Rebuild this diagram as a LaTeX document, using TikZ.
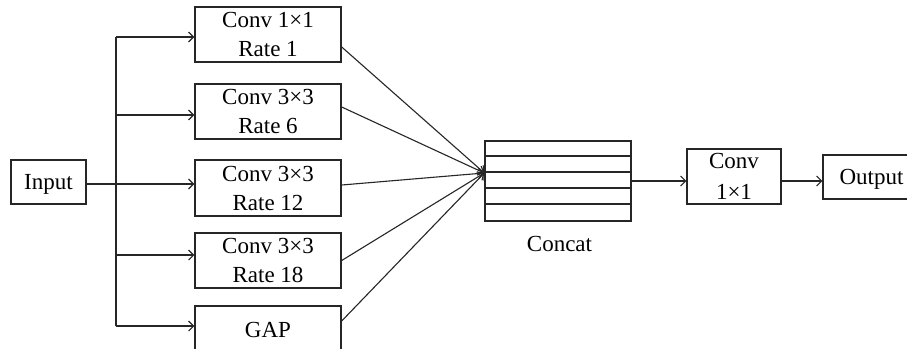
\documentclass[tikz,border=0pt]{standalone}
\usepackage{fontspec}
\setmainfont{Liberation Serif}
\usetikzlibrary{arrows.meta}
\begin{document}
\begin{tikzpicture}[x=1pt,y=-1pt,
  box/.style={draw=black!85, line width=1.4pt, fill=white, inner sep=0pt, align=center,
    font=\fontsize{23}{29}\selectfont},
  one/.style={text height=15pt, text depth=0pt},
  arr/.style={draw=black!85, line width=1.1pt, -{Straight Barb[length=5pt,width=10pt,line width=1.1pt]}},
  ln/.style={draw=black!85, line width=1.1pt}]
\clip (0,0) rectangle (907,348);
\fill[white] (0,0) rectangle (907,348);
% input
\node[box, one, minimum width=75pt, minimum height=44pt] (input) at (48.5,182) {Input};
% branches
\node[box, minimum width=146pt, minimum height=55pt] (b1) at (268,34.5) {Conv 1×1\\Rate 1};
\node[box, minimum width=146pt, minimum height=55pt] (b2) at (268,111.5) {Conv 3×3\\Rate 6};
\node[box, minimum width=146pt, minimum height=56pt] (b3) at (268,188) {Conv 3×3\\Rate 12};
\node[box, minimum width=146pt, minimum height=55pt] (b4) at (268,260.5) {Conv 3×3\\Rate 18};
\node[box, one, minimum width=146pt, minimum height=47pt] (b5) at (268,329.5) {GAP};
% concat
\node[draw=black!85, line width=1.4pt, minimum width=146pt, minimum height=80pt, inner sep=0pt] (concat) at (558,181) {};
\foreach \yy in {156,172,188,204}
  \draw[ln] (concat.west |- 0,\yy) -- (concat.east |- 0,\yy);
\node[box, one, draw=none, fill=none] (clab) at (559.5,243.5) {Concat};
% conv and output
\node[box, minimum width=94pt, minimum height=55pt, font=\fontsize{23}{31}\selectfont] (conv) at (734,176.5) {Conv\\1×1};
\node[box, one, minimum width=97pt, minimum height=44pt] (out) at (871.5,177) {Output};
% trunk
\coordinate (t1) at (116,37);
\coordinate (t2) at (116,115);
\coordinate (t3) at (116,184);
\coordinate (t4) at (116,255);
\coordinate (t5) at (116,326);
\draw[ln] (t1) -- (t5);
\draw[arr] (t1) -- (t1 -| b1.west);
\draw[arr] (t2) -- (t2 -| b2.west);
\draw[arr] (input.east |- t3) -- (t3 -| b3.west);
\draw[arr] (t4) -- (t4 -| b4.west);
\draw[arr] (t5) -- (t5 -| b5.west);
% fan into concat
\coordinate (cc) at ([yshift=8pt]concat.west);
\draw[arr] ([yshift=-12.5pt]b1.east) -- (cc);
\draw[arr] ([yshift=4.5pt]b2.east) -- (cc);
\draw[arr] ([yshift=3pt]b3.east) -- (cc);
\draw[arr] (b4.east) -- (cc);
\draw[arr] ([yshift=8.5pt]b5.east) -- (cc);
% to conv and output
\draw[arr] (concat.east) -- (concat.east -| conv.west);
\draw[arr] (conv.east |- concat.east) -- (concat.east -| out.west);
\end{tikzpicture}
\end{document}
